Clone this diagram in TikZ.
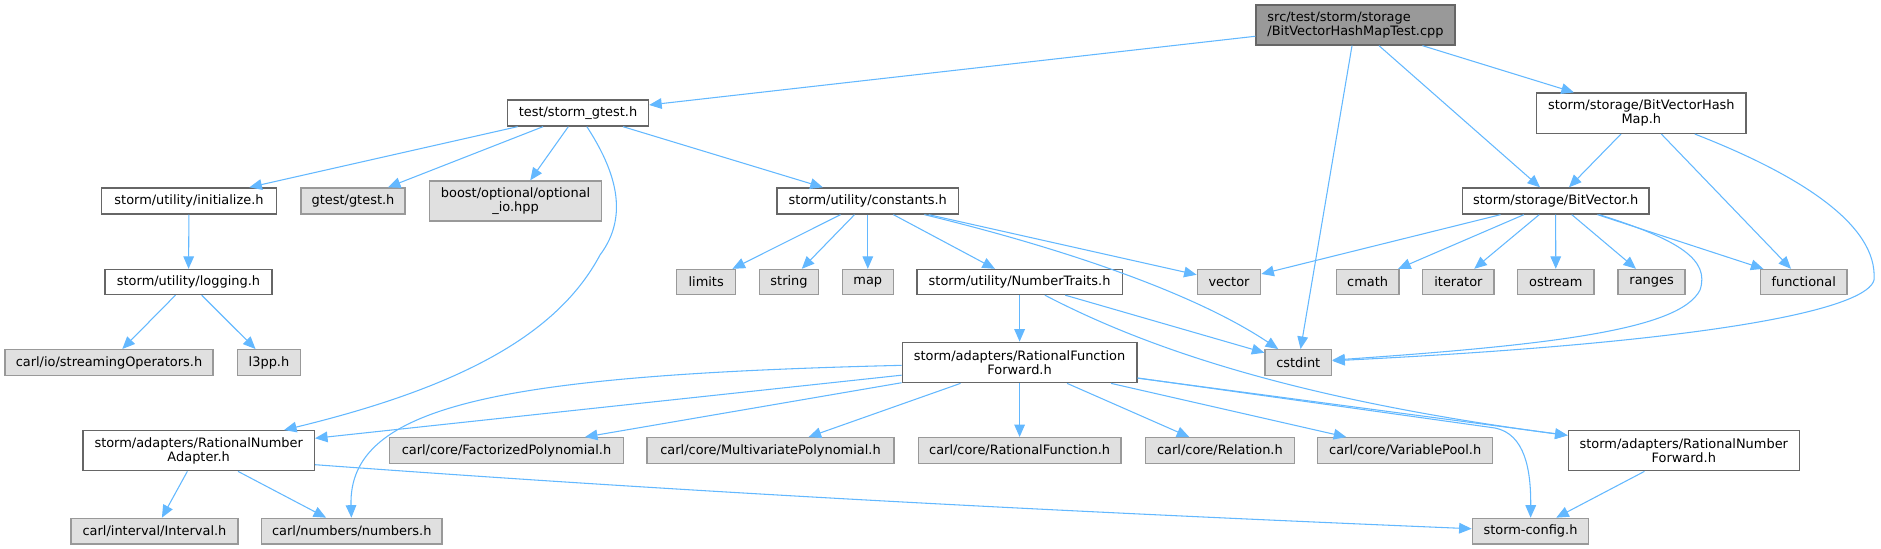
\documentclass[tikz,border=0pt]{standalone}
\usepackage{fontspec}
\setmainfont{DejaVu Sans}
\usetikzlibrary{arrows.meta,calc}
\definecolor{edgecol}{HTML}{63B8FF}
\definecolor{wborder}{HTML}{666666}
\definecolor{gfill}{HTML}{E0E0E0}
\definecolor{gborder}{HTML}{999999}
\definecolor{rootfill}{HTML}{999999}
\tikzset{
  nbox/.style={draw, line width=1pt, inner sep=1pt, font=\fontsize{9.7}{10.8}\selectfont, align=center},
  wbox/.style={nbox, draw=wborder, fill=white},
  gbox/.style={nbox, draw=gborder, fill=gfill},
  rbox/.style={nbox, draw=wborder, fill=rootfill, align=left},
  sz/.style 2 args={minimum width=#1*0.75pt, minimum height=#2*0.75pt},
  edge/.style={draw=edgecol, line width=0.8pt, -{Triangle[length=9.4pt,width=8pt]}}
}
\begin{document}
\begin{tikzpicture}[x=0.75pt,y=-0.75pt]
\useasboundingbox (0,0) rectangle (1881,549);
\node[rbox, sz={199}{40}] (root) at (1355.5,25) {src/test/storm/storage\\/BitVectorHashMapTest.cpp};
\node[wbox, sz={141}{26}] (gtest) at (578,113) {test/storm\_gtest.h};
\node[wbox, sz={209.4}{40.3}] (hashmap) at (1641.3,113.2) {storm/storage/BitVectorHash\\Map.h};
\node[wbox, sz={174.5}{26}] (init) at (189,201) {storm/utility/initialize.h};
\node[gbox, sz={104}{26}] (gtesth) at (353,201) {gtest/gtest.h};
\node[gbox, sz={172.3}{40}] (boost) at (515.6,201) {boost/optional/optional\\\_io.hpp};
\node[wbox, sz={181.3}{26}] (const) at (867.8,201) {storm/utility/constants.h};
\node[wbox, sz={186.7}{26}] (bitvec) at (1555.6,201) {storm/storage/BitVector.h};
\node[wbox, sz={167}{25}] (logging) at (188.5,282) {storm/utility/logging.h};
\node[gbox, sz={59}{25}] (limits) at (706.2,282) {limits};
\node[gbox, sz={59.4}{25}] (string) at (789,282) {string};
\node[gbox, sz={51}{25}] (map) at (867.8,282) {map};
\node[wbox, sz={205.3}{25}] (ntraits) at (1019.6,282) {storm/utility/NumberTraits.h};
\node[gbox, sz={63.4}{25}] (vector) at (1229,282) {vector};
\node[gbox, sz={62.5}{25}] (cmath) at (1367.6,282) {cmath};
\node[gbox, sz={71.2}{25}] (iterator) at (1458.4,282) {iterator};
\node[gbox, sz={76.5}{25}] (ostream) at (1555.8,282) {ostream};
\node[gbox, sz={67}{25}] (ranges) at (1651.6,282) {ranges};
\node[gbox, sz={86.8}{25}] (functional) at (1803.7,282) {functional};
\node[gbox, sz={208}{25.6}] (streamops) at (109,362.5) {carl/io/streamingOperators.h};
\node[gbox, sz={63}{25.6}] (l3pp) at (269,362.5) {l3pp.h};
\node[gbox, sz={66.5}{25.6}] (cstdint) at (1298.3,362.5) {cstdint};
\node[wbox, sz={234.8}{40.4}] (rff) at (1019.6,362.5) {storm/adapters/RationalFunction\\Forward.h};
\node[wbox, sz={231.3}{40}] (rna) at (198.7,450.7) {storm/adapters/RationalNumber\\Adapter.h};
\node[gbox, sz={233.5}{25.6}] (factpoly) at (506.5,450.5) {carl/core/FactorizedPolynomial.h};
\node[gbox, sz={247.3}{25.6}] (multipoly) at (770.5,450.5) {carl/core/MultivariatePolynomial.h};
\node[gbox, sz={202.7}{25.6}] (ratfunc) at (1019.6,450.5) {carl/core/RationalFunction.h};
\node[gbox, sz={148.7}{25.6}] (relation) at (1219.9,450.5) {carl/core/Relation.h};
\node[gbox, sz={175}{25.6}] (varpool) at (1405.2,450.5) {carl/core/VariablePool.h};
\node[wbox, sz={231}{40}] (rnf) at (1683.8,450.7) {storm/adapters/RationalNumber\\Forward.h};
\node[gbox, sz={167}{25.7}] (interval) at (154.5,531.2) {carl/interval/Interval.h};
\node[gbox, sz={180.4}{25.7}] (numbers) at (351.8,531.2) {carl/numbers/numbers.h};
\node[gbox, sz={116.4}{25.7}] (config) at (1530.5,531.2) {storm-config.h};
% root
\draw[edge] (root) -- (gtest);
\draw[edge] (root) -- (cstdint);
\draw[edge] (root) -- (bitvec);
\draw[edge] (root) -- (hashmap);
% gtest
\draw[edge] (gtest) -- (init);
\draw[edge] (gtest) -- (gtesth);
\draw[edge] (gtest) -- (boost);
\draw[edge] (gtest) -- (const);
\draw[edge] (gtest) .. controls (615,170) and (630,215) .. (600,255) .. controls (560,330) and (470,385) .. (rna);
% initialize / logging
\draw[edge] (init) -- (logging);
\draw[edge] (logging) -- (streamops);
\draw[edge] (logging) -- (l3pp);
% constants
\draw[edge] (const) -- (limits);
\draw[edge] (const) -- (string);
\draw[edge] (const) -- (map);
\draw[edge] (const) -- (ntraits);
\draw[edge] (const) -- (vector);
\draw[edge] (const) .. controls (1050,245) and (1190,290) .. (cstdint);
% number traits
\draw[edge] (ntraits) -- (rff);
\draw[edge] (ntraits) -- (cstdint);
\draw[edge] (ntraits) .. controls (1150,350) and (1300,400) .. (rnf);
% rational function forward
\draw[edge] (rff) -- (rna);
\draw[edge] (rff) .. controls (500,375) and (348,405) .. (numbers);
\draw[edge] (rff) -- (factpoly);
\draw[edge] (rff) -- (multipoly);
\draw[edge] (rff) -- (ratfunc);
\draw[edge] (rff) -- (relation);
\draw[edge] (rff) -- (varpool);
\draw[edge] ($(rff.east)+(0,15.5)$) -- (1495,428) .. controls (1525,434) and (1531,470) .. (config);
\draw[edge] (rff) -- (rnf);
% rational number adapter
\draw[edge] (rna) -- (interval);
\draw[edge] (rna) -- (numbers);
\draw[edge] ($(rna.east)+(0,14)$) .. controls (714,494) and (1071,512) .. (config);
% rational number forward
\draw[edge] (rnf) -- (config);
% hash map
\draw[edge] (hashmap) -- (bitvec);
\draw[edge] (hashmap) -- (functional);
\draw[edge] (hashmap) .. controls (1800,175) and (1878,225) .. (1874,280) .. controls (1868,305) and (1750,340) .. (cstdint);
% bit vector
\draw[edge] (bitvec) -- (vector);
\draw[edge] (bitvec) -- (cmath);
\draw[edge] (bitvec) -- (iterator);
\draw[edge] (bitvec) -- (ostream);
\draw[edge] (bitvec) -- (ranges);
\draw[edge] (bitvec) -- (functional);
\draw[edge] (bitvec) .. controls (1680,240) and (1710,260) .. (1700,290) .. controls (1680,330) and (1550,345) .. (cstdint);
\end{tikzpicture}
\end{document}
